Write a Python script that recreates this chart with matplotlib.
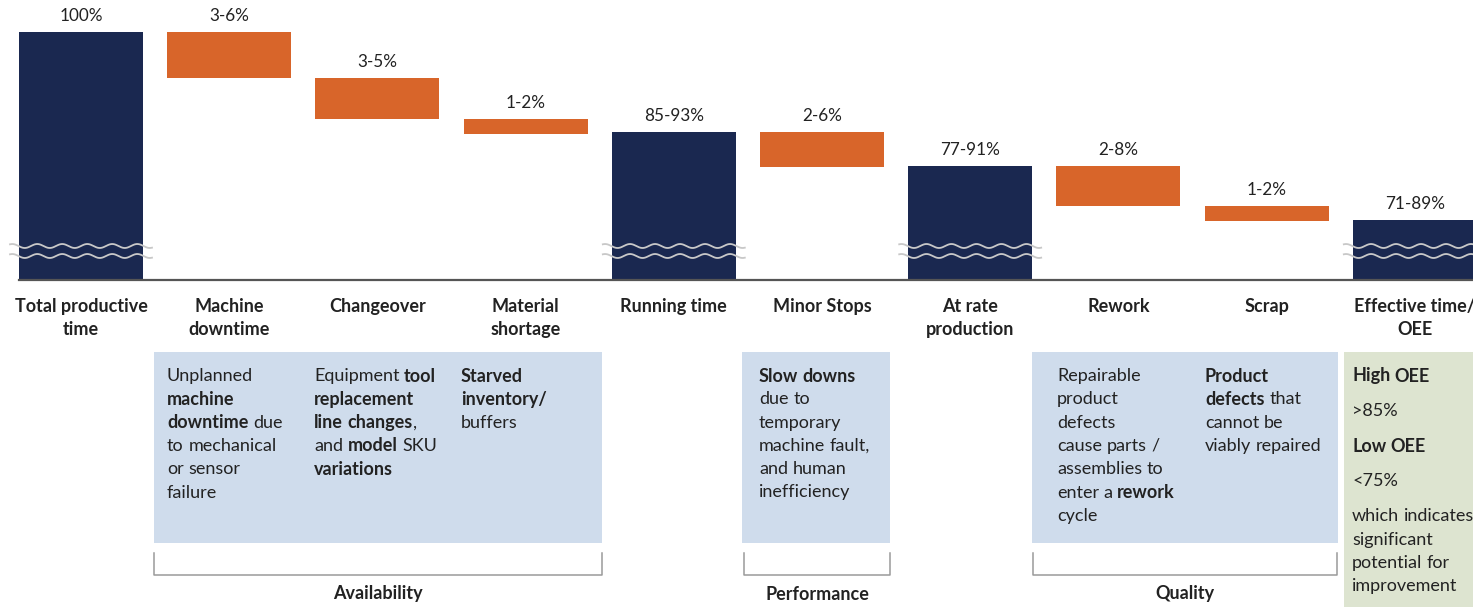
import numpy as np
import matplotlib
matplotlib.use("Agg")
import matplotlib.pyplot as plt
from matplotlib.patches import Rectangle

plt.rcParams['font.family'] = ['Lato', 'DejaVu Sans']

# ---------------------------------------------------------
# data (heights are in the chart's own, broken-axis units)
# ---------------------------------------------------------
categories = ["Total productive\ntime", "Machine\ndowntime", "Changeover", "Material\nshortage",
              "Running time", "Minor Stops", "At rate\nproduction", "Rework", "Scrap",
              "Effective time/\nOEE"]
kinds = ["total", "loss", "loss", "loss", "total", "loss", "total", "loss", "loss", "total"]
values = [248, 46, 41, 15, 148, 35, 114, 40, 15, 60]
pct_labels = ["100%", "3-6%", "3-5%", "1-2%", "85-93%", "2-6%", "77-91%", "2-8%", "1-2%", "71-89%"]

NAVY = "#1a2850"
ORANGE = "#d8652a"
BLUE_BOX = "#cfdcec"
GREEN_BOX = "#dde4d0"
TXT = "#222222"
FS = 13

W, H = 1473, 607
fig = plt.figure(figsize=(W / 100, H / 100), dpi=100)

# overlay in pixel coordinates for the text panels
ov = fig.add_axes([0, 0, 1, 1])
ov.set_xlim(0, W); ov.set_ylim(H, 0); ov.axis("off")

# chart axes: baseline at pixel 280, bars every 148.2 px starting at 81
pitch, x0, base_px = 148.2, 81, 280
ax = fig.add_axes([0, (H - base_px) / H, 1, base_px / H])
ax.set_xlim(-x0 / pitch, (W - x0) / pitch)
ax.set_ylim(0, base_px)
ax.axis("off")

bw = 124 / pitch
level = 0
bottoms, heights = [], []
for k, v in zip(kinds, values):
    if k == "total":
        bottoms.append(0); heights.append(v); level = v
    else:
        bottoms.append(level - v); heights.append(v); level = level - v

x = np.arange(len(categories))
colors = [NAVY if k == "total" else ORANGE for k in kinds]
ax.bar(x, heights, bottom=bottoms, width=bw, color=colors, zorder=2)

# baseline
ax.plot([-bw / 2, (W - x0) / pitch], [0, 0], color="#555555", lw=1.6, zorder=3, clip_on=False)

# wavy break marks across totals
ext = 9 / pitch
for i, k in enumerate(kinds):
    if k != "total":
        continue
    xs = np.linspace(i - bw / 2 - ext, i + bw / 2 + ext, 200)
    for yc in (34, 24):
        ax.plot(xs, yc + 2.0 * np.sin((xs - i) * 2 * np.pi * pitch / 25), color="#c8c8c8",
                lw=1.3, zorder=4, clip_on=False)

# percentage labels
for i in range(len(x)):
    ax.annotate(pct_labels[i], (x[i], bottoms[i] + heights[i]), xytext=(0, 11.5),
                textcoords="offset points", ha="center", va="center", fontsize=12.3, color=TXT)

# category labels
for i, c in enumerate(categories):
    ax.text(x[i], -(298 - base_px), c, ha="center", va="top", fontsize=FS,
            fontweight="bold", color=TXT, linespacing=1.43)

# ---------------------------------------------------------
# text panels
# ---------------------------------------------------------
ov.add_patch(Rectangle((154, 352), 448, 191, color=BLUE_BOX, lw=0))
ov.add_patch(Rectangle((742, 352), 148, 191, color=BLUE_BOX, lw=0))
ov.add_patch(Rectangle((1032, 352), 306, 191, color=BLUE_BOX, lw=0))
ov.add_patch(Rectangle((1344, 352), 129, 255, color=GREEN_BOX, lw=0))

fig.canvas.draw()
renderer = fig.canvas.get_renderer()


def text_w(s, bold):
    t = ov.text(0, 0, s, fontsize=FS, fontweight="bold" if bold else "normal")
    w = t.get_window_extent(renderer).width
    t.remove()
    return w


def rich_line(xp, yp, line):
    # '*' toggles bold
    parts = line.split("*")
    cx = xp
    for j, p in enumerate(parts):
        if not p:
            continue
        bold = j % 2 == 1
        words = p.split(" ")
        for wi, wd in enumerate(words):
            if wd:
                ov.text(cx, yp, wd, fontsize=FS, fontweight="bold" if bold else "normal",
                        va="center", ha="left", color=TXT)
                cx += text_w(wd, bold)
            if wi < len(words) - 1:
                cx += text_w("a a", bold) - text_w("aa", bold)


def block(xp, lines, y0=376, step=23.3):
    for k, ln in enumerate(lines):
        rich_line(xp, y0 + k * step, ln)


block(167, ["Unplanned", "*machine*", "*downtime* due", "to mechanical", "or sensor", "failure"])
block(314, ["Equipment *tool*", "*replacement*", "*line changes*,", "and *model* SKU", "*variations*"])
block(461, ["*Starved*", "*inventory/*", "buffers"])
block(759, ["*Slow downs*", "due to", "temporary", "machine fault,", "and human", "inefficiency"])
block(1057, ["Repairable", "product", "defects", "cause parts /", "assemblies to",
             "enter a *rework*", "cycle"])
block(1205, ["*Product*", "*defects* that", "cannot be", "viably repaired"])

green_lines = ["*High OEE*", ">85%", "*Low OEE*", "<75%", "which indicates", "significant",
               "potential for", "improvement"]
green_y = [376, 411, 446, 481, 516, 540, 563, 586]
for ln, yy in zip(green_lines, green_y):
    rich_line(1352, yy, ln)

# brackets
for (a, b, name) in [(154, 602, "Availability"), (744, 890, "Performance"), (1033, 1337, "Quality")]:
    ov.plot([a, a, b, b], [553, 575, 575, 553], color="#9a9a9a", lw=1.1)
    ov.text((a + b) / 2, 594, name, ha="center", va="center", fontsize=FS,
            fontweight="bold", color=TXT)

fig.savefig("out.png", dpi=100)
